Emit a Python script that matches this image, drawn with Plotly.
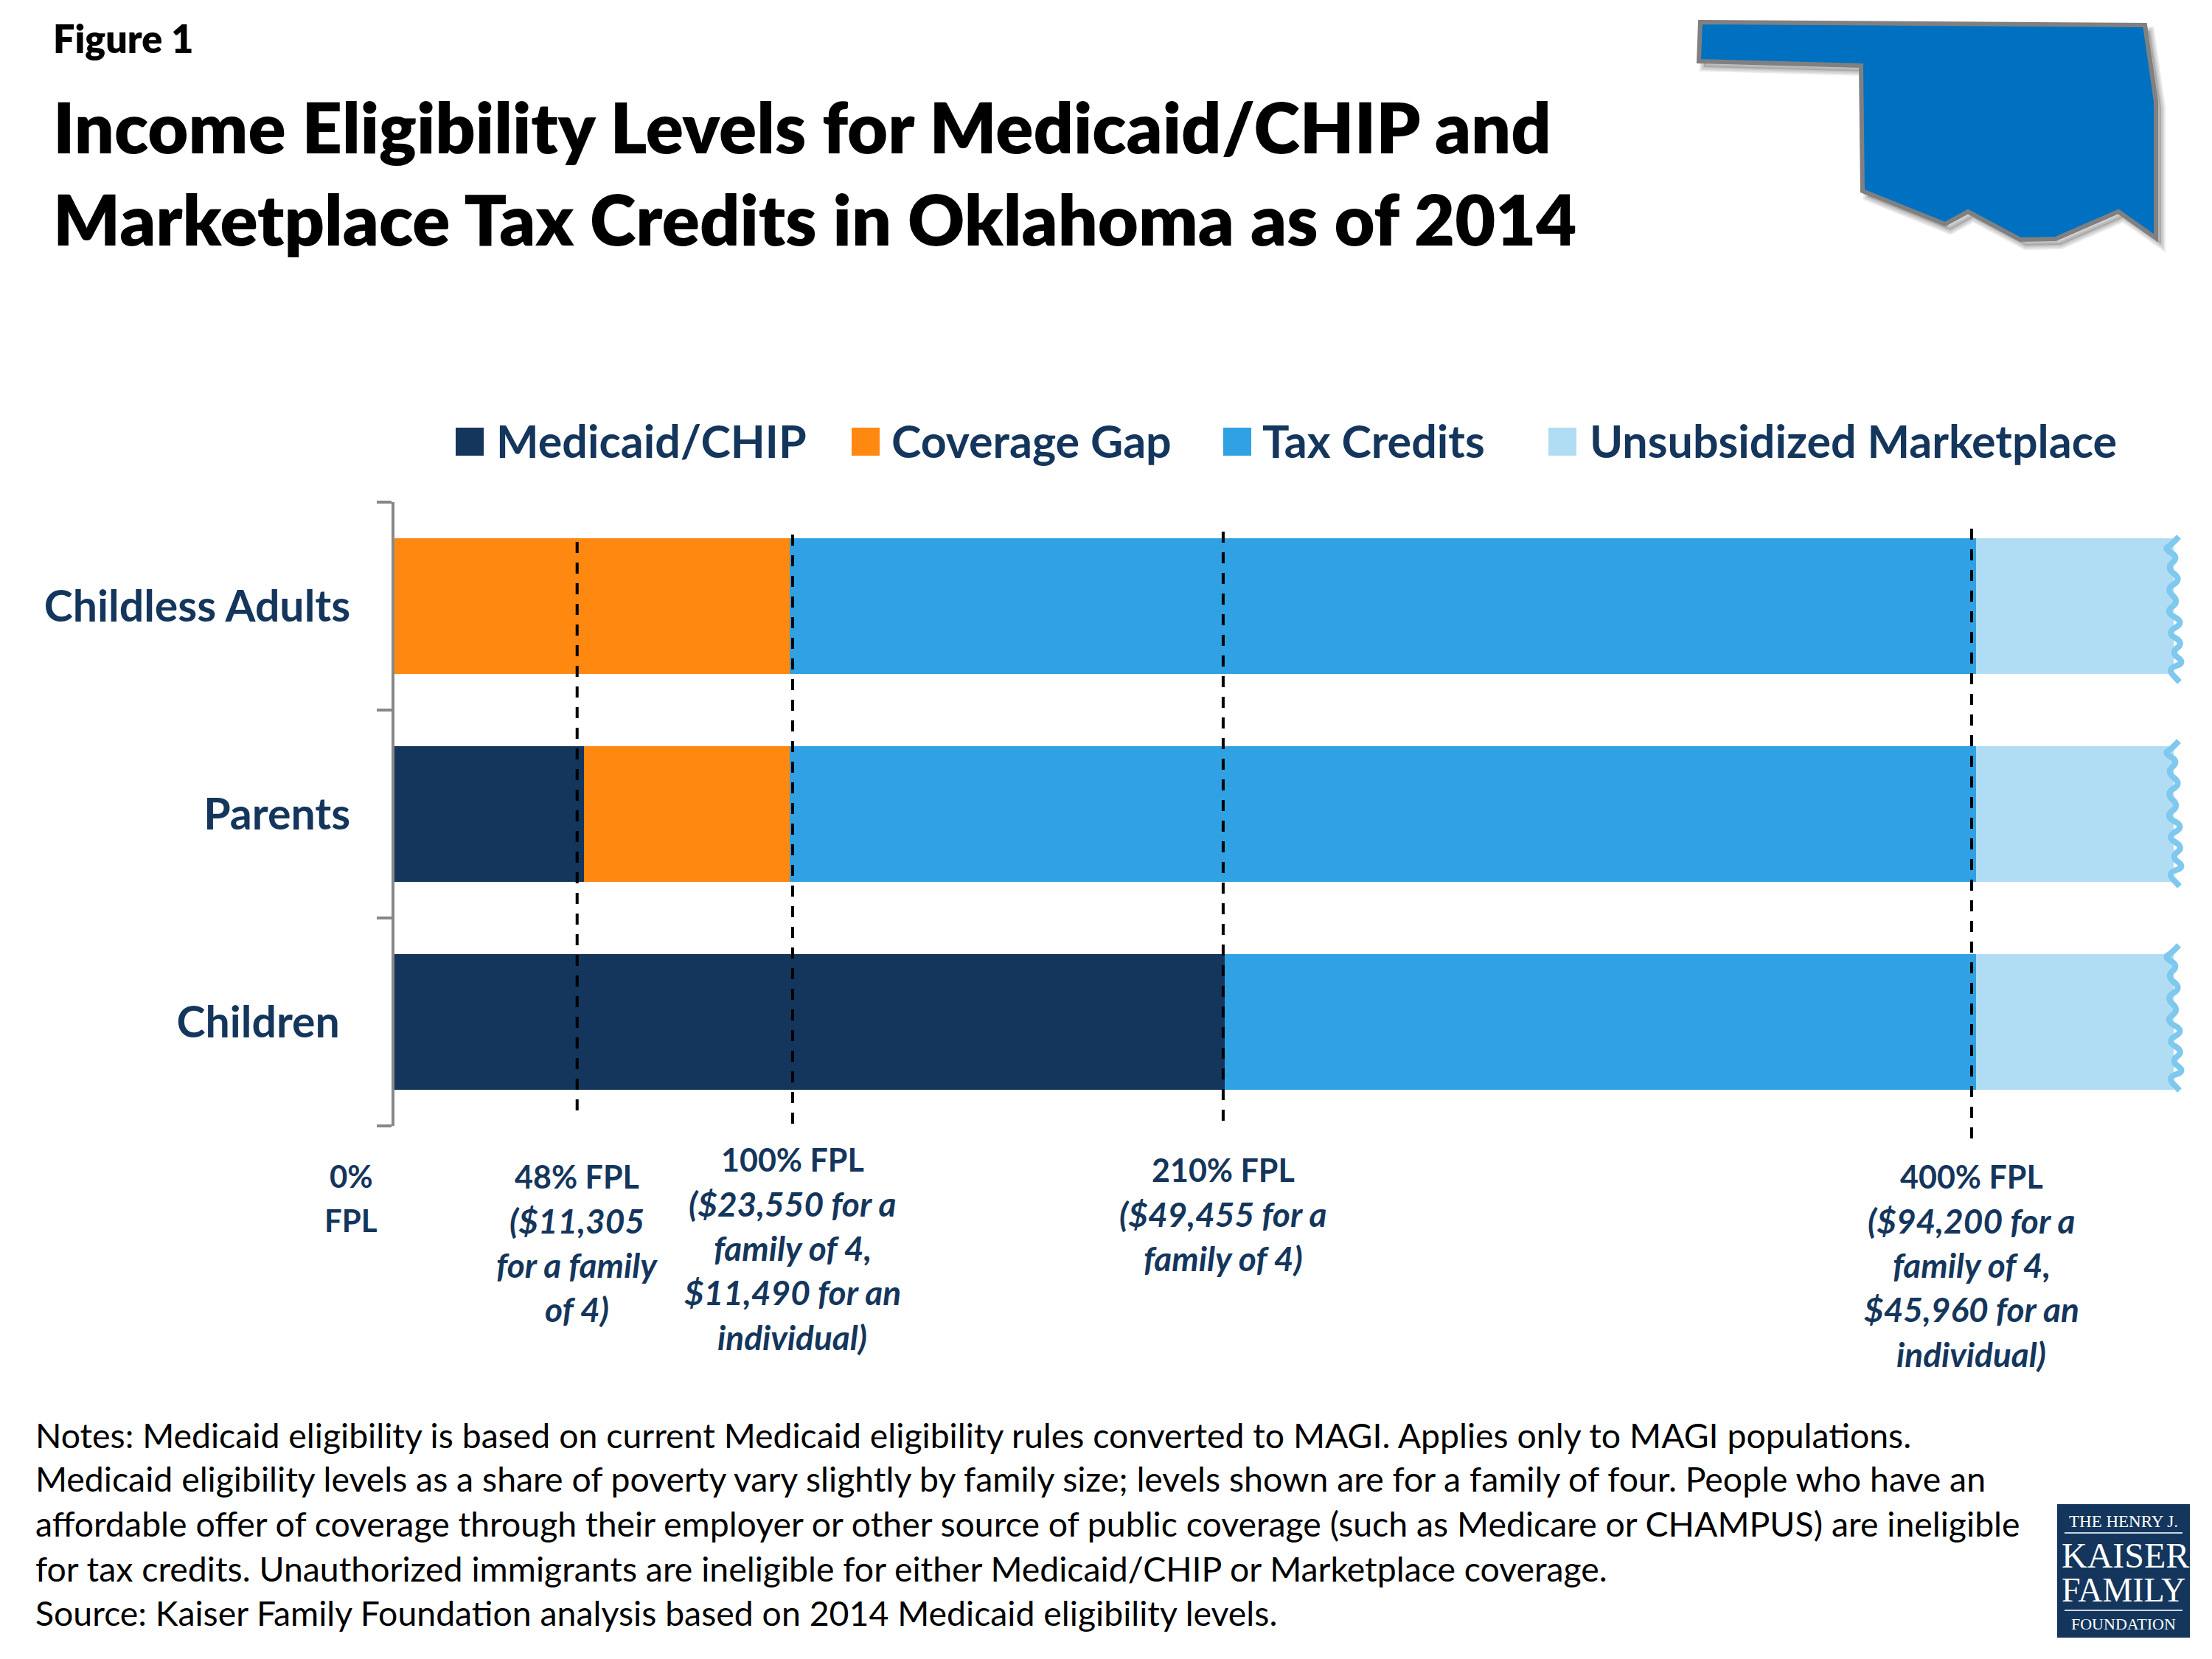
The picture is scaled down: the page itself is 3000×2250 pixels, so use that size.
import plotly.graph_objects as go

# Chart data (% of federal poverty level)
categories = ["Children\u00a0", "Parents", "Childless Adults"]
medicaid_chip = [210, 48, 0]
coverage_gap = [0, 52, 100]
tax_credits = [190, 300, 300]
unsubsidized = [50, 50, 50]
series_names = ["Medicaid/CHIP", "Coverage Gap", "Tax Credits", "Unsubsidized Marketplace"]
series_colors = ["#14365C", "#FF8811", "#30A2E3", "#B1DDF4"]

# Dashed cut-offs and their captions
cutoff_x = [46.2, 100.7, 209.6, 398.9]
cutoff_captions = [
    ["48% FPL", "($11,305", "for a family", "of 4)"],
    ["100% FPL", "($23,550 for a", "family of 4,", "$11,490 for an", "individual)"],
    ["210% FPL", "($49,455 for a", "family of 4)"],
    ["400% FPL", "($94,200 for a", "family of 4,", "$45,960 for an", "individual)"],
]

title_lines = ["Income Eligibility Levels for Medicaid/CHIP and",
               "Marketplace Tax Credits in Oklahoma as of 2014"]
note_lines = [
    "Notes: Medicaid eligibility is based on current Medicaid eligibility rules converted to MAGI. Applies only to MAGI populations.",
    "Medicaid eligibility levels as a share of poverty vary slightly by family size; levels shown are for a family of four. People who have an",
    "affordable offer of coverage through their employer or other source of public coverage (such as Medicare or CHAMPUS) are ineligible",
    "for tax credits. Unauthorized immigrants are ineligible for either Medicaid/CHIP or Marketplace coverage.",
    "Source: Kaiser Family Foundation analysis based on 2014 Medicaid eligibility levels.",
]

W, H = 3000, 2250
NAVY = "#14365C"
SANS = "Lato"


# margins are 0, so paper coordinates are just canvas pixels
def px(x):
    return x / W


def py(y):
    return 1 - y / H


def poly_path(points):
    return "M" + " L".join(f"{px(x):.5f},{py(y):.5f}" for x, y in points) + " Z"


def smooth_path(points):
    d = f"M{px(points[0][0]):.5f},{py(points[0][1]):.5f}"
    for i in range(1, len(points) - 1):
        mx = (points[i][0] + points[i + 1][0]) / 2
        my = (points[i][1] + points[i + 1][1]) / 2
        d += f" Q{px(points[i][0]):.5f},{py(points[i][1]):.5f} {px(mx):.5f},{py(my):.5f}"
    d += f" L{px(points[-1][0]):.5f},{py(points[-1][1]):.5f}"
    return d


fig = go.Figure()
for name, color, values in zip(series_names, series_colors,
                               [medicaid_chip, coverage_gap, tax_credits, unsubsidized]):
    fig.add_trace(go.Bar(y=categories, x=values, name=name, orientation="h",
                         marker=dict(color=color, line_width=0), showlegend=False))

shapes = []
annotations = []


def add_text(x, y, text, size, color="black", weight="normal", italic=False,
             anchor="left", family=SANS, xref="paper"):
    annotations.append(dict(x=x, y=py(y), xref=xref, yref="paper", text=text, showarrow=False,
                            xanchor=anchor, yanchor="middle",
                            font=dict(family=family, size=size, color=color, weight=weight,
                                      style="italic" if italic else "normal")))


# Header
add_text(px(70), 52, "Figure 1", 52, weight=800)
for y, line in zip([171, 296], title_lines):
    add_text(px(70), y, line, 95, weight=800)

# Legend squares and labels
legend_x = [(618, 671), (1155, 1207), (1659, 1710), (2100, 2154)]
for (sq_x, txt_x), name, color in zip(legend_x, series_names, series_colors):
    shapes.append(dict(type="rect", xref="paper", yref="paper", x0=px(sq_x), x1=px(sq_x + 38),
                       y0=py(580), y1=py(618), fillcolor=color, line_width=0))
    add_text(px(txt_x), 597, name, 61, color=NAVY, weight="bold")

# Dashed lines, from the top and bottom pixel of each one
cutoff_spans = [(735, 1511), (725, 1525), (721, 1525), (717, 1550)]
for x, (top, bottom) in zip(cutoff_x, cutoff_spans):
    shapes.append(dict(type="line", xref="x", yref="paper", x0=x, x1=x, y0=py(top), y1=py(bottom),
                       line=dict(color="black", width=4, dash="15px,13px")))

# FPL captions
add_text(px(476), 1595, "0%", 42, color=NAVY, weight="bold", anchor="center")
add_text(px(476), 1655, "FPL", 42, color=NAVY, weight="bold", anchor="center")
caption_top = [1595, 1572, 1586, 1595]
for x, top, lines in zip(cutoff_x, caption_top, cutoff_captions):
    for i, line in enumerate(lines):
        add_text(x, top + i * 60.3, line, 46 if i > 0 else 43, color=NAVY, weight="bold",
                 italic=i > 0, anchor="center", xref="x")

# Notes
for y, line in zip([1946, 2005, 2066, 2127, 2187], note_lines):
    add_text(px(46), y, line, 46.4)

# Torn edge on the right of each bar
squiggle = [(2955, 728), (2945, 739), (2935, 744), (2955, 756), (2938, 770), (2959, 786),
            (2937, 799), (2956, 816), (2936, 830), (2963, 844), (2938, 858), (2962, 872),
            (2944, 885), (2964, 899), (2939, 907), (2956, 925)]
for dy in [0, 277, 554]:
    shapes.append(dict(type="path", xref="paper", yref="paper",
                       path=smooth_path([(x, y + dy) for x, y in squiggle]),
                       line=dict(color="#7FC8EE", width=8)))

# Oklahoma outline with a soft shadow
state = [(2306, 30), (2909, 34), (2924, 138), (2924, 323), (2873, 287), (2788, 324), (2740, 325),
         (2669, 287), (2638, 304), (2526, 259), (2524, 89), (2304, 83)]
shadow = [(x + 7, y + 8) for x, y in state]
for width in [12, 8, 4]:
    shapes.append(dict(type="path", xref="paper", yref="paper", path=poly_path(shadow),
                       fillcolor="rgba(0,0,0,0.05)", line=dict(color="rgba(0,0,0,0.08)", width=width)))
shapes.append(dict(type="path", xref="paper", yref="paper", path=poly_path(state),
                   fillcolor="#0070C0", line=dict(color="#808080", width=6)))

# Logo block
shapes.append(dict(type="rect", xref="paper", yref="paper", x0=px(2790), x1=px(2970),
                   y0=py(2040), y1=py(2221), fillcolor="#14365C", line_width=0))
for y in [2079, 2184]:
    shapes.append(dict(type="line", xref="paper", yref="paper", x0=px(2800), x1=px(2960),
                       y0=py(y), y1=py(y), line=dict(color="#C9D6E3", width=2)))
serif = "Liberation Serif"
add_text(px(2880), 2063, "THE HENRY J.", 23, color="white", anchor="center", family=serif)
add_text(px(2882), 2109, "KAISER", 48, color="white", anchor="center", family=serif)
add_text(px(2880), 2156, "FAMILY", 46, color="white", anchor="center", family=serif)
add_text(px(2880), 2202, "FOUNDATION", 22, color="white", anchor="center", family=serif)

fig.update_layout(
    width=W, height=H,
    margin=dict(l=0, r=0, t=0, b=0),
    paper_bgcolor="white", plot_bgcolor="white",
    barmode="stack", bargap=0.35,
    shapes=shapes, annotations=annotations,
    font=dict(family=SANS),
)
fig.update_xaxes(range=[0, 450], domain=[px(535), px(2948)], visible=False)
fig.update_yaxes(domain=[py(1527), py(681)], categoryorder="array", categoryarray=categories,
                 showgrid=False, showline=True, linecolor="#888888", linewidth=4,
                 ticks="outside", tickson="boundaries", ticklen=20, tickwidth=4, tickcolor="#888888",
                 ticklabelstandoff=44,
                 tickfont=dict(family=SANS, size=59, color=NAVY, weight="bold"))

# the page body has a default margin, drop it so the figure fills the window exactly
fig.write_html("out.html", config={"displayModeBar": False},
               post_script="document.body.style.margin = '0';")
